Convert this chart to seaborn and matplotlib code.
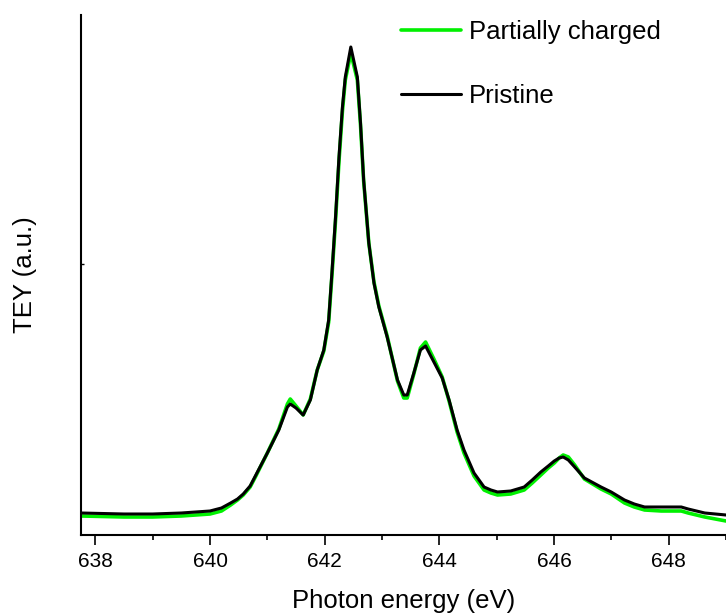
import numpy as np
import pandas as pd
import matplotlib
matplotlib.use("Agg")
import matplotlib.pyplot as plt
import seaborn as sns
from matplotlib.ticker import MultipleLocator

# photon energy (eV) and TEY intensity (arbitrary units)
energy = [637.75, 638.5, 639.0, 639.5, 640.0, 640.2, 640.36, 640.48, 640.58, 640.7, 640.8, 641.0, 641.2,
          641.35, 641.4, 641.5, 641.625, 641.75, 641.87, 641.985, 642.07, 642.13, 642.19,
          642.25, 642.31, 642.36, 642.456, 642.57, 642.625, 642.68, 642.77, 642.86, 642.945,
          643.09, 643.27, 643.38, 643.44, 643.555, 643.67, 643.76, 643.905, 644.05, 644.17,
          644.31, 644.43, 644.605, 644.78, 644.9, 645.015, 645.245, 645.48, 645.62, 645.77, 645.9,
          646.005, 646.09, 646.16, 646.25, 646.36, 646.53, 646.82, 646.998, 647.23, 647.4,
          647.58, 647.87, 648.22, 648.34, 648.63, 649.0]

pristine = [22, 21, 21, 22, 24, 27, 32, 36, 41, 49, 60, 82, 105,
            128, 131, 127, 120, 135, 165, 185, 215, 265, 318,
            378, 428, 458, 488, 458, 412, 355, 292, 252, 228,
            198, 155, 140, 140, 162, 185, 189, 173, 157, 135,
            105, 85, 62, 48, 45, 43, 44, 48, 55, 63, 69,
            74, 77, 78, 75, 68, 57, 48, 43, 35, 31,
            28, 28, 28, 26, 22, 20]

partial = [19, 18, 18, 19, 21, 24, 30, 35, 40, 48, 59, 82, 106,
           131, 136, 129, 120, 136, 165, 184, 213, 262, 315,
           374, 424, 455, 482, 455, 410, 354, 292, 253, 229,
           199, 154, 137, 137, 161, 187, 193, 176, 158, 134,
           103, 82, 59, 45, 42, 40, 41, 45, 52, 60, 67,
           72, 77, 80, 78, 70, 56, 46, 41, 32, 28,
           25, 24, 24, 22, 18, 14]

df = pd.DataFrame({
    "energy": energy * 2,
    "tey": partial + pristine,
    "sample": ["Partially charged"] * len(energy) + ["Pristine"] * len(energy),
})

sns.set_style("ticks")
plt.rcParams["font.family"] = ["Liberation Sans", "DejaVu Sans"]
plt.rcParams["text.color"] = "black"
plt.rcParams["axes.labelcolor"] = "black"
plt.rcParams["xtick.color"] = "black"
plt.rcParams["ytick.color"] = "black"

fig = plt.figure(figsize=(7.26, 6.15), dpi=100)
ax = fig.add_axes([81 / 726, 80 / 615, 645 / 726, 520 / 615])

sns.lineplot(data=df, x="energy", y="tey", hue="sample",
             palette={"Partially charged": "#00f000", "Pristine": "black"},
             ax=ax, legend=False)
for ln, lw in zip(ax.lines, [2.6, 2.2]):
    ln.set_linewidth(lw)
    ln.set_solid_joinstyle("round")

ax.set_xlim(637.75, 649.0)
ax.set_ylim(0, 520)
ax.xaxis.set_major_locator(MultipleLocator(2))
ax.xaxis.set_minor_locator(MultipleLocator(1))
ax.set_yticks([271])
ax.set_yticklabels([])
ax.tick_params(axis="x", which="major", direction="out", length=7.2, width=1.2,
               labelsize=15, pad=5)
ax.tick_params(axis="x", which="minor", direction="out", length=3.6, width=1.2)
ax.tick_params(axis="y", direction="in", length=2, width=1.0)

for side in ["top", "right"]:
    ax.spines[side].set_visible(False)
for side in ["left", "bottom"]:
    ax.spines[side].set_linewidth(1.5)
    ax.spines[side].set_color("black")

ax.set_xlabel("Photon energy (eV)", fontsize=18.5, labelpad=13)
ax.set_ylabel("TEY (a.u.)", fontsize=18.5, labelpad=28)

handles = [plt.Line2D([], [], color="#00f000", lw=2.6),
           plt.Line2D([], [], color="black", lw=2.2)]
fig.legend(handles, ["Partially charged", "Pristine"], loc="upper left",
           bbox_to_anchor=(401 / 726, 1 - 20 / 615), frameon=False,
           fontsize=18.5, handlelength=2.35, handletextpad=0.3,
           labelspacing=1.57, borderpad=0, borderaxespad=0)

fig.savefig("out.png", dpi=100)
